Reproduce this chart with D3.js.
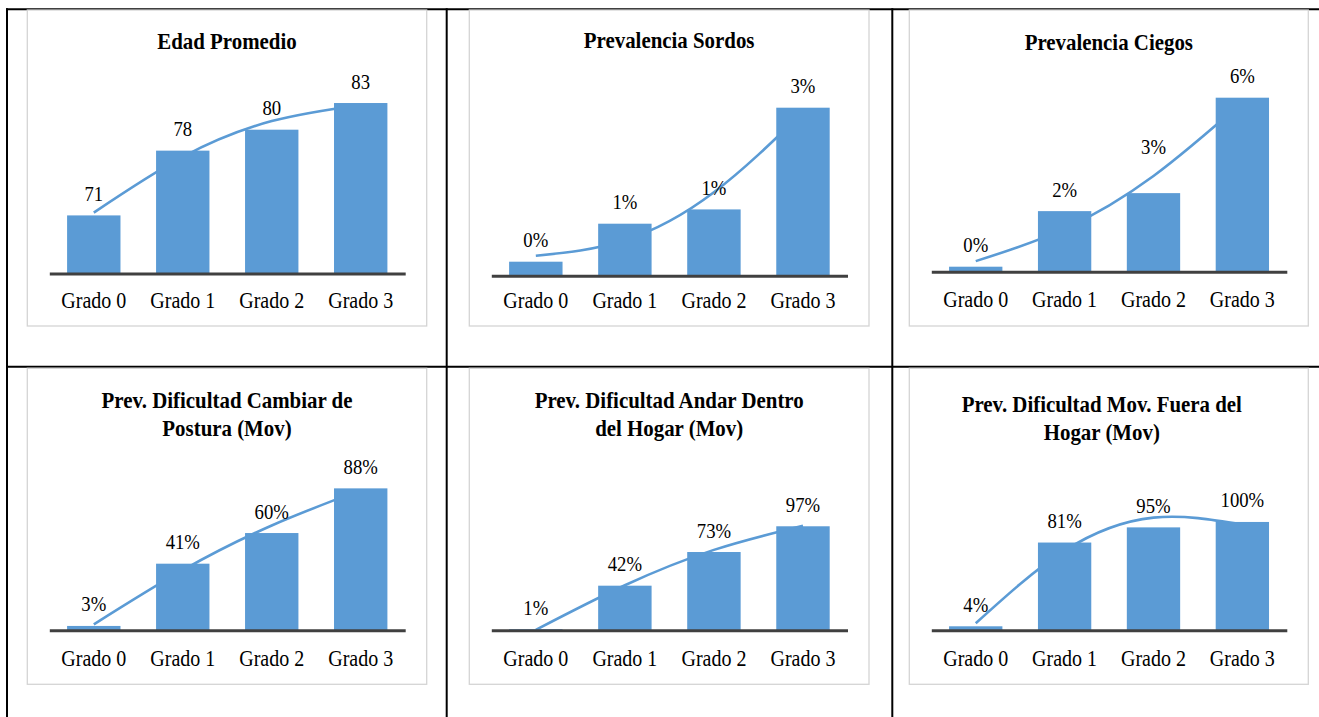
<!DOCTYPE html>
<html>
<head>
<meta charset="utf-8">
<script src="https://cdn.jsdelivr.net/npm/d3@7"></script>
<style>
html, body { margin: 0; padding: 0; background: #fff; }
svg { display: block; }
</style>
</head>
<body>
<svg id="chart" width="1319" height="717"></svg>
<script>
// ---------- DATA ----------
const categories = ["Grado 0", "Grado 1", "Grado 2", "Grado 3"];

const edadPromedio      = [71.1, 77.9, 80.1, 82.9];
const edadTrend         = [71.4, 77.25, 81.0, 82.7];

const prevSordos        = [0.00245, 0.0091, 0.0116, 0.0294];
const sordosTrend       = [0.0035, 0.0062, 0.0146, 0.0286];

const prevCiegos        = [0.00175, 0.0212, 0.0275, 0.0609];
const ciegosTrend       = [0.0037, 0.0150, 0.0335, 0.0593];

const prevCambiarPostura = [0.027, 0.413, 0.603, 0.88];
const cambiarTrend       = [0.037, 0.373, 0.65, 0.869];

const prevAndarDentro   = [0.010, 0.416, 0.73, 0.97];
const andarTrend        = [0.004, 0.42, 0.75, 0.975];

const prevFueraHogar    = [0.037, 0.81, 0.95, 1.0];
const fueraTrend        = [0.065, 0.735, 1.04, 0.975];

const titles = [
  ["Edad Promedio"],
  ["Prevalencia Sordos"],
  ["Prevalencia Ciegos"],
  ["Prev. Dificultad Cambiar de", "Postura (Mov)"],
  ["Prev. Dificultad Andar Dentro", "del Hogar (Mov)"],
  ["Prev. Dificultad Mov. Fuera del", "Hogar (Mov)"]
];

// ---------- LAYOUT / STYLE ----------
const FONT = "'Liberation Serif','Times New Roman',serif";
const SX = 0.87;          // horizontal text compression seen in the picture
const BAR = "#5b9bd5";
const fmtInt = d3.format(".0f");
const fmtPct = d3.format(".0%");

const panels = [
  { title: titles[0], values: edadPromedio, trend: edadTrend, fmt: fmtInt,
    domain: [65, 86], box: [27.3, 10, 399.4, 316], axisY: 273.5, tickY: 34.8,
    titleY: 49.3, titleDx: 0, labelShift: [0, 0, 0, 0] },
  { title: titles[1], values: prevSordos, trend: sordosTrend, fmt: fmtPct,
    domain: [0, 0.035], box: [469.3, 10, 399.7, 316], axisY: 275.7, tickY: 32.6,
    titleY: 47.5, titleDx: 0, labelShift: [0, 0, 0, 0] },
  { title: titles[2], values: prevCiegos, trend: ciegosTrend, fmt: fmtPct,
    domain: [0, 0.07], box: [909.3, 10, 399, 316], axisY: 271.7, tickY: 35,
    titleY: 50, titleDx: 0, labelShift: [0, 0, -24.5, 0] },
  { title: titles[3], values: prevCambiarPostura, trend: cambiarTrend, fmt: fmtPct,
    domain: [0, 1.24], box: [27.3, 368.3, 399.4, 316], axisY: 630.3, tickY: 35.4,
    titleY: 408.3, titleDx: 0, labelShift: [0, 0, 0, 0] },
  { title: titles[4], values: prevAndarDentro, trend: andarTrend, fmt: fmtPct,
    domain: [0, 1.865], box: [469.3, 368.3, 399.7, 316], axisY: 630.3, tickY: 35.4,
    titleY: 408.3, titleDx: 0, labelShift: [0, 0, 0, 0] },
  { title: titles[5], values: prevFueraHogar, trend: fueraTrend, fmt: fmtPct,
    domain: [0, 1.846], box: [909.3, 368.3, 399, 316], axisY: 630.3, tickY: 35.4,
    titleY: 412.3, titleDx: -7, labelShift: [0, 0, 0, 0] }
];

const svg = d3.select("#chart");

// ---------- TABLE GRID ----------
const grid = svg.append("g").attr("stroke", "#000").attr("stroke-width", 2).attr("fill", "none");
grid.append("line").attr("x1", 6).attr("x2", 1319).attr("y1", 9.3).attr("y2", 9.3);
grid.append("line").attr("x1", 6).attr("x2", 1319).attr("y1", 366.7).attr("y2", 366.7);
[7, 446.7, 892.3].forEach(xv => {
  grid.append("line").attr("x1", xv).attr("x2", xv).attr("y1", 8.3).attr("y2", 717);
});

// ---------- PANELS ----------
panels.forEach(p => {
  const [bx, by, bw, bh] = p.box;
  const g = svg.append("g");

  g.append("rect")
    .attr("x", bx).attr("y", by).attr("width", bw).attr("height", bh)
    .attr("fill", "#fff").attr("stroke", "#d4d4d4").attr("stroke-width", 1.3);

  const x = d3.scaleBand()
    .domain(categories)
    .range([bx + 22, bx + bw - 21.5])
    .paddingInner(0.4)
    .paddingOuter(0.2);

  const y = d3.scaleLinear()
    .domain(p.domain)
    .range([p.axisY, p.axisY - 200]);

  const cx = i => x(categories[i]) + x.bandwidth() / 2;

  // trend line (behind bars)
  const line = d3.line()
    .x((d, i) => cx(i))
    .y(d => y(d))
    .curve(d3.curveNatural);
  g.append("path")
    .datum(p.trend)
    .attr("d", line)
    .attr("fill", "none")
    .attr("stroke", BAR)
    .attr("stroke-width", 2.6)
    .attr("stroke-linecap", "butt");

  // bars
  g.selectAll("rect.bar")
    .data(p.values)
    .join("rect")
    .attr("class", "bar")
    .attr("x", (d, i) => x(categories[i]))
    .attr("width", x.bandwidth())
    .attr("y", d => y(d))
    .attr("height", d => p.axisY - y(d))
    .attr("fill", BAR);

  // category axis
  const ax = g.append("g")
    .attr("transform", `translate(0,${p.axisY})`)
    .call(d3.axisBottom(x).tickSize(0).tickSizeOuter(0).tickPadding(0));
  ax.attr("font-family", FONT).attr("font-size", 23);
  ax.select(".domain").attr("stroke", "#404040").attr("stroke-width", 3);
  ax.selectAll(".tick text")
    .attr("y", 0)
    .attr("dy", null)
    .attr("fill", "#000")
    .attr("transform", `translate(0,${p.tickY}) scale(${SX},1)`);

  // data labels
  g.selectAll("text.lbl")
    .data(p.values)
    .join("text")
    .attr("class", "lbl")
    .attr("transform", (d, i) => `translate(${cx(i)},${y(d) - 14.5 + p.labelShift[i]}) scale(${SX},1)`)
    .attr("text-anchor", "middle")
    .attr("font-family", FONT)
    .attr("font-size", 21.5)
    .attr("fill", "#000")
    .text(d => p.fmt(d));

  // title
  const tx = bx + bw / 2 + p.titleDx;
  p.title.forEach((t, k) => {
    g.append("text")
      .attr("transform", `translate(${tx},${p.titleY + k * 27.7}) scale(${SX},1)`)
      .attr("text-anchor", "middle")
      .attr("font-family", FONT)
      .attr("font-weight", "bold")
      .attr("font-size", 24)
      .attr("fill", "#000")
      .text(t);
  });
});
</script>
</body>
</html>
